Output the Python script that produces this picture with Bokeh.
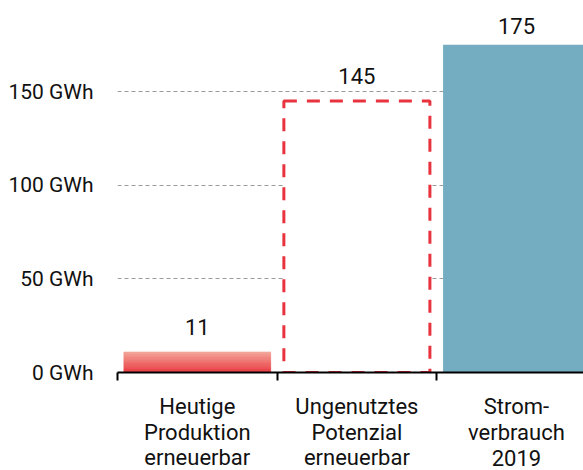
from bokeh.plotting import figure
from bokeh.models import FixedTicker, Range1d
from bokeh.layouts import column
from bokeh.embed import file_html
from bokeh.resources import INLINE
from bokeh.core.properties import value

# ---------------- data ----------------
categories = ["Heutige\nProduktion\nerneuerbar",
              "Ungenutztes\nPotenzial\nerneuerbar",
              "Strom-\nverbrauch\n2019"]
values = [11, 145, 175]
value_labels = ["11", "145", "175"]
y_ticks = [0, 50, 100, 150]
y_tick_labels = ["0 GWh", "50 GWh", "100 GWh", "150 GWh"]

# ---------------- style ----------------
FONT = "Roboto"
TEXT_COLOR = "#111111"
RED_TOP = (243, 162, 149)
RED_BOTTOM = (232, 52, 59)
RED_DASH = "#e8323e"
BLUE = "#74adc1"
BAR_W = 0.92
label_offsets = [-25, -25, -19]
row_offsets = [16, 42, 67]   # category label lines (px below strip top)

centers = [i + 0.5 for i in range(len(categories))]
x_range = Range1d(0, 2.92)

# ---------------- main chart ----------------
p = figure(width=583, height=390, output_backend="svg", toolbar_location=None,
           x_range=x_range, y_range=Range1d(0, 198.6),
           min_border_left=117, min_border_right=0, min_border_top=0,
           min_border_bottom=18)
p.outline_line_color = None
p.background_fill_color = "white"
p.border_fill_color = "white"

p.xgrid.visible = False
p.ygrid.ticker = FixedTicker(ticks=y_ticks)
p.ygrid.grid_line_color = "#9a9a9a"
p.ygrid.grid_line_dash = "4 3"
p.ygrid.grid_line_width = 1

p.yaxis.ticker = FixedTicker(ticks=y_ticks)
p.yaxis.major_label_overrides = {t: l for t, l in zip(y_ticks, y_tick_labels)}
p.yaxis.axis_line_color = None
p.yaxis.major_tick_line_color = None
p.yaxis.major_tick_out = 0
p.yaxis.minor_tick_line_color = None
p.yaxis.major_label_standoff = 24
p.yaxis.major_label_text_font = FONT
p.yaxis.major_label_text_font_size = "21px"
p.yaxis.major_label_text_color = TEXT_COLOR

bounds = [float(i) for i in range(len(categories) + 1)]
p.xaxis.ticker = FixedTicker(ticks=centers, minor_ticks=bounds)
p.xaxis.major_label_overrides = {c: "" for c in centers}
p.xaxis.major_label_text_font_size = "1px"
p.xaxis.major_label_standoff = 0
p.xaxis.major_tick_out = 0
p.xaxis.major_tick_in = 0
p.xaxis.minor_tick_out = 8
p.xaxis.minor_tick_in = 0
p.xaxis.minor_tick_line_color = "black"
p.xaxis.minor_tick_line_width = 2
p.xaxis.axis_line_color = "black"
p.xaxis.axis_line_width = 2

# bar 1: gradient red (thin slices derived from its value)
v0 = values[0]
n = 24
bot, top, cols = [], [], []
for i in range(n):
    bot.append(v0 * i / n)
    top.append(v0 * (i + 1) / n)
    t = (i + 0.5) / n
    c = tuple(int(round(RED_BOTTOM[k] + (RED_TOP[k] - RED_BOTTOM[k]) * t)) for k in range(3))
    cols.append("#%02x%02x%02x" % c)
p.quad(left=[centers[0] - BAR_W / 2] * n, right=[centers[0] + BAR_W / 2] * n,
       bottom=bot, top=top, fill_color=cols, line_color=cols, line_width=0.5)

# bar 2: dashed outline, white fill
p.vbar(x=[centers[1]], top=[values[1]], bottom=0, width=BAR_W - 0.005,
       fill_color="white", line_color=RED_DASH, line_width=3, line_dash="13 10")

# bar 3: solid blue
p.vbar(x=[centers[2]], top=[values[2]], bottom=0, width=BAR_W,
       fill_color=BLUE, line_color=None)

# value labels
p.text(x=centers, y=values, text=value_labels, y_offset=label_offsets,
       text_align="center", text_baseline="alphabetic",
       text_font=value(FONT), text_font_size="22px", text_color=TEXT_COLOR)

# ---------------- category label strip ----------------
q = figure(width=583, height=80, output_backend="svg", toolbar_location=None,
           x_range=x_range, y_range=Range1d(0, 1),
           x_axis_location=None, y_axis_location=None,
           min_border_left=117, min_border_right=0, min_border_top=0,
           min_border_bottom=0)
q.outline_line_color = None
q.grid.visible = False
q.background_fill_color = "white"
q.border_fill_color = "white"

rows = [c.split("\n") for c in categories]
for k in range(3):
    q.text(x=centers, y=[1] * len(centers),
           text=[r[k] if k < len(r) else "" for r in rows],
           y_offset=row_offsets[k],
           text_align="center", text_baseline="alphabetic",
           text_font=value(FONT), text_font_size="22px", text_color=TEXT_COLOR)

layout = column(p, q, spacing=0)
open("out.html", "w").write(file_html(layout, INLINE))
